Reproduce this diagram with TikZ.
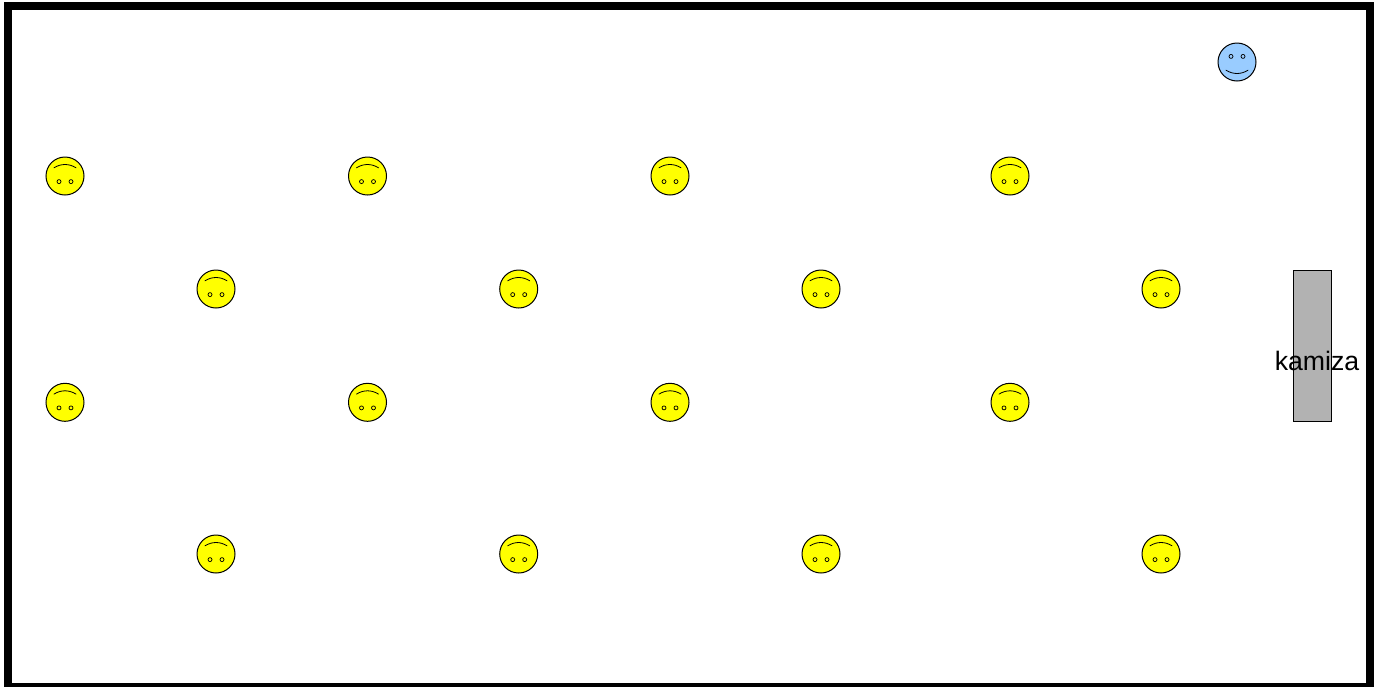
\documentclass[tikz,border=0pt]{standalone}
\usepackage{fontspec}
\setmainfont{Liberation Sans}
\definecolor{faceyellow}{HTML}{FFFF00}
\definecolor{faceblue}{HTML}{99CCFF}
\definecolor{matgray}{HTML}{B2B2B2}
\tikzset{
  outline/.style={draw=black,line width=0.75pt},
  headdisc/.style={circle,outline,minimum size=28.5pt,inner sep=0pt},
  frameline/.style={draw=black,line width=6pt,line join=miter},
  eyedot/.style={draw=black,line width=0.55pt},
  mouthline/.style={draw=black,line width=0.6pt,line cap=round},
  matbox/.style={rectangle,outline,fill=matgray,minimum width=28.7pt,minimum height=113.2pt,inner sep=0pt},
  matlabel/.style={font=\fontsize{20}{24}\selectfont,text=black,inner sep=0pt}
}
\newcommand{\awayface}[3]{%
  \node[headdisc,fill=faceyellow] (#1) at (#2,#3) {};
  \draw[eyedot] (#2-6,#3+5.6) circle[radius=2];
  \draw[eyedot] (#2+6,#3+5.6) circle[radius=2];
  \draw[mouthline] (#2-11,#3-8.2) .. controls (#2-4,#3-12.6) and (#2+4,#3-12.6) .. (#2+11,#3-8.2);
}
\newcommand{\towardface}[3]{%
  \node[headdisc,fill=faceblue] (#1) at (#2,#3) {};
  \draw[eyedot] (#2-6,#3-5.6) circle[radius=2];
  \draw[eyedot] (#2+6,#3-5.6) circle[radius=2];
  \draw[mouthline] (#2-11,#3+8.2) .. controls (#2-4,#3+12.6) and (#2+4,#3+12.6) .. (#2+11,#3+8.2);
}
\begin{document}
\begin{tikzpicture}[x=0.75pt,y=-0.75pt]
\useasboundingbox (0,0) rectangle (1380,686);
\fill[white] (0,0) rectangle (1380,686);
\begin{scope}
\clip (0,0) rectangle (1380,686);
\draw[frameline] (8,6) rectangle (1369.5,687);
\end{scope}
\node[matbox] (mat) at (1312.5,345.8) {};
\node[matlabel] (matname) at (1317,361) {kamiza};
\towardface{teacher}{1237}{62}
\foreach \px [count=\i] in {65,367.5,670,1010}{
  \awayface{rowa\i}{\px}{176}
  \awayface{rowc\i}{\px}{402.3}
}
\foreach \px [count=\i] in {216,518.7,821,1161}{
  \awayface{rowb\i}{\px}{289}
  \awayface{rowd\i}{\px}{554}
}
\end{tikzpicture}
\end{document}
